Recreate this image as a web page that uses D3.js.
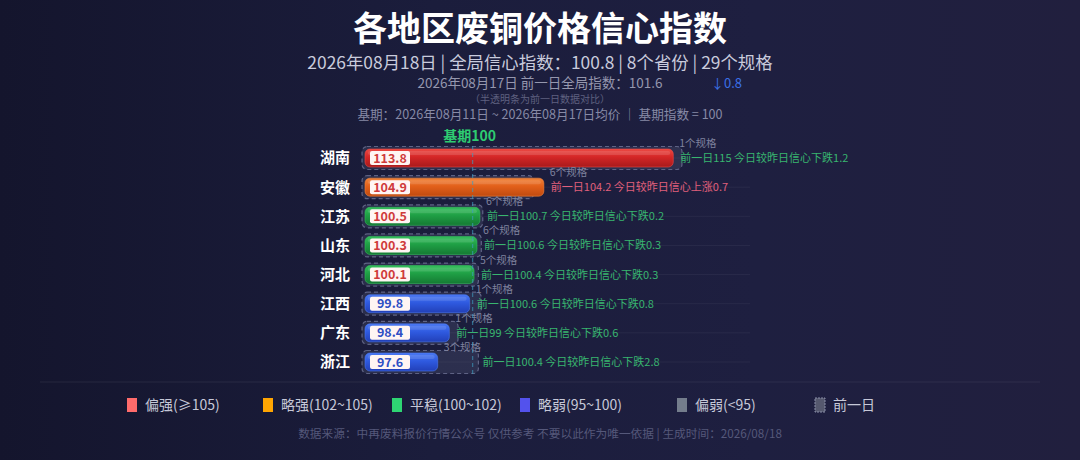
<!DOCTYPE html>
<html>
<head>
<meta charset="utf-8">
<script src="https://cdn.jsdelivr.net/npm/d3@7"></script>
<style>
  html, body { margin: 0; padding: 0; }
  body { width: 1080px; height: 460px; overflow: hidden;
         background: linear-gradient(90deg, #14152d 0%, #1b1d3c 40%, #1e1f40 70%, #211f3e 100%); }
  svg { display: block; }
</style>
</head>
<body>
<div id="chart"></div>
<script>
// Data
//////////////////////////////////////////////////////////////////////
const provinces = ["湖南", "安徽", "江苏", "山东", "河北", "江西", "广东", "浙江"];
const todayIndex = [113.8, 104.9, 100.5, 100.3, 100.1, 99.8, 98.4, 97.6];
const prevIndex = [115, 104.2, 100.7, 100.6, 100.4, 100.6, 99, 100.4];
const specCounts = [1, 6, 6, 6, 5, 1, 1, 3];

const legendLabels = ["偏强(≥105)", "略强(102~105)", "平稳(100~102)", "略弱(95~100)", "偏弱(<95)", "前一日"];
const legendColors = ["#ff6b6b", "#ffa502", "#2ed573", "#5352ed", "#747d8c", "#55586e"];

const globalIndex = 100.8;
const prevGlobalIndex = 101.6;
const baseIndex = 100;

// Variables
//////////////////////////////////////////////////////////////////////
const width = 1080, height = 460;
const fontFamily = '"Noto Sans CJK SC", "Noto Sans", sans-serif';
const barH = 18;

const svg = d3.select("#chart").append("svg")
  .attr("width", width).attr("height", height)
  .attr("font-family", fontFamily);

const defs = svg.append("defs");

// bar gradients: top light, bottom dark
const barStyles = {
  strong: ["#ec4a44", "#d42626", "#a81a1c"],
  up:     ["#f2843a", "#e2601a", "#c04a10"],
  flat:   ["#34be5c", "#1f9f45", "#157a33"],
  weak:   ["#4a78f2", "#2f5ae0", "#2240b8"],
  low:    ["#8a93a3", "#747d8c", "#5a6270"]
};
Object.entries(barStyles).forEach(([k, c]) => {
  const g = defs.append("linearGradient").attr("id", "g_" + k)
    .attr("x1", 0).attr("y1", 0).attr("x2", 0).attr("y2", 1);
  g.append("stop").attr("offset", "0%").attr("stop-color", c[0]);
  g.append("stop").attr("offset", "45%").attr("stop-color", c[1]);
  g.append("stop").attr("offset", "100%").attr("stop-color", c[2]);
});

function level(v) {
  if (v >= 105) return "strong";
  if (v >= 102) return "up";
  if (v >= 100) return "flat";
  if (v >= 95) return "weak";
  return "low";
}

// Scales (clamped: ghost bars beyond the axis end are cut at the edge)
//////////////////////////////////////////////////////////////////////
const x = d3.scaleLinear().domain([92.6, 114.4]).range([365, 682]).clamp(true);
const y = d3.scalePoint().domain(provinces).range([158, 362]);

const rows = provinces.map((p, i) => ({
  name: p, v: todayIndex[i], prev: prevIndex[i], specs: specCounts[i]
}));

// note goes after the ghost bar only when it sticks out a lot
const noteX = d => (d.prev - d.v > 2) ? x(d.prev) + 4 : x(d.v) + 7;

// Header
//////////////////////////////////////////////////////////////////////
svg.append("text").attr("x", 540).attr("y", 41)
  .attr("text-anchor", "middle").attr("fill", "#ffffff")
  .attr("font-size", 34).attr("font-weight", 700)
  .text("各地区废铜价格信心指数");

svg.append("text").attr("x", 540).attr("y", 69)
  .attr("text-anchor", "middle").attr("fill", "#c9cbdc")
  .attr("font-size", 17.4)
  .text(`2026年08月18日 | 全局信心指数：${globalIndex} | ${provinces.length}个省份 | ${d3.sum(specCounts)}个规格`);

svg.append("text").attr("x", 540).attr("y", 88)
  .attr("text-anchor", "middle").attr("fill", "#9597ae")
  .attr("font-size", 13.5)
  .text(`2026年08月17日 前一日全局指数：${prevGlobalIndex}`);

const gDiff = prevGlobalIndex - globalIndex;
svg.append("text").attr("x", 711).attr("y", 88)
  .attr("fill", "#3b6fe6").attr("font-size", 13)
  .text((gDiff > 0 ? "↓" : "↑") + Math.abs(gDiff).toFixed(1));

svg.append("text").attr("x", 540).attr("y", 103)
  .attr("text-anchor", "middle").attr("fill", "#5f6180")
  .attr("font-size", 10)
  .text("（半透明条为前一日数据对比）");

svg.append("text").attr("x", 540).attr("y", 119)
  .attr("text-anchor", "middle").attr("fill", "#878aa6")
  .attr("font-size", 12.6)
  .text(`基期：2026年08月11日 ~ 2026年08月17日均价 ｜ 基期指数 = ${baseIndex}`);

svg.append("text").attr("x", x(baseIndex) - 3).attr("y", 141)
  .attr("text-anchor", "middle").attr("fill", "#2ecc71")
  .attr("font-size", 14).attr("font-weight", 700)
  .text("基期" + baseIndex);

// Row guide lines
//////////////////////////////////////////////////////////////////////
svg.append("g")
  .selectAll("line").data(rows).join("line")
  .attr("x1", 365).attr("x2", 750)
  .attr("y1", d => y(d.name)).attr("y2", d => y(d.name))
  .attr("stroke", "#ffffff").attr("stroke-opacity", 0.05);

// Province names
//////////////////////////////////////////////////////////////////////
svg.append("g")
  .selectAll("text").data(rows).join("text")
  .attr("x", 350).attr("y", d => y(d.name)).attr("dy", "0.36em")
  .attr("text-anchor", "end").attr("fill", "#ffffff")
  .attr("font-size", 15).attr("font-weight", 700)
  .text(d => d.name);

// Previous-day ghost bars
//////////////////////////////////////////////////////////////////////
svg.append("g")
  .selectAll("rect").data(rows).join("rect")
  .attr("x", x.range()[0] - 3)
  .attr("y", d => y(d.name) - 11.5)
  .attr("width", d => x(d.prev) - x.range()[0] + 3)
  .attr("height", 23)
  .attr("rx", 5)
  .attr("fill", "#8890b0").attr("fill-opacity", 0.16)
  .attr("stroke", "#8f96b8").attr("stroke-opacity", 0.55)
  .attr("stroke-dasharray", "4,3").attr("stroke-width", 1.2);

// Today bars
//////////////////////////////////////////////////////////////////////
const bar = svg.append("g")
  .selectAll("g").data(rows).join("g")
  .attr("transform", d => `translate(0,${y(d.name)})`);

bar.append("rect")
  .attr("x", x.range()[0])
  .attr("y", -barH / 2)
  .attr("width", d => x(d.v) - x.range()[0])
  .attr("height", barH)
  .attr("rx", 5)
  .attr("fill", d => `url(#g_${level(d.v)})`)
  .attr("stroke", d => barStyles[level(d.v)][0])
  .attr("stroke-opacity", 0.6);

// glossy highlight
bar.append("rect")
  .attr("x", x.range()[0] + 3)
  .attr("y", -barH / 2 + 2)
  .attr("width", d => x(d.v) - x.range()[0] - 6)
  .attr("height", 4)
  .attr("rx", 2)
  .attr("fill", "#ffffff").attr("fill-opacity", 0.12);

// value tag
bar.append("rect")
  .attr("x", 370).attr("y", -7).attr("width", 40).attr("height", 14)
  .attr("rx", 2).attr("fill", "#fff5f3");

bar.append("text")
  .attr("x", 390).attr("y", 0).attr("dy", "0.36em")
  .attr("text-anchor", "middle")
  .attr("font-size", 12.5).attr("font-weight", 700)
  .attr("fill", d => level(d.v) === "weak" ? "#2f4fc4" : "#cf3b3b")
  .text(d => d3.format(".1f")(d.v));

// spec count labels
bar.append("text")
  .attr("x", d => x(d.v) + 6)
  .attr("y", -11)
  .attr("font-size", 10.5).attr("fill", "#7f829e")
  .text(d => d.specs + "个规格");

// change notes
bar.append("text")
  .attr("x", noteX)
  .attr("y", 0).attr("dy", "0.36em")
  .attr("font-size", 11)
  .attr("fill", d => d.v >= d.prev ? "#e0607c" : "#38b56f")
  .text(d => {
    const diff = d.v - d.prev;
    return `前一日${d.prev} 今日较昨日信心${diff >= 0 ? "上涨" : "下跌"}${Math.abs(diff).toFixed(1)}`;
  });

// Base line
//////////////////////////////////////////////////////////////////////
svg.append("line")
  .attr("x1", x(baseIndex)).attr("x2", x(baseIndex))
  .attr("y1", 146).attr("y2", 377)
  .attr("stroke", "#3d9cc0").attr("stroke-opacity", 0.6)
  .attr("stroke-width", 1.3).attr("stroke-dasharray", "4,3");

// Separator
//////////////////////////////////////////////////////////////////////
svg.append("line")
  .attr("x1", 40).attr("x2", 1040).attr("y1", 382).attr("y2", 382)
  .attr("stroke", "#ffffff").attr("stroke-opacity", 0.07);

// Legend
//////////////////////////////////////////////////////////////////////
const legendX = [127, 263, 392, 520, 677, 815];
const legend = svg.append("g")
  .selectAll("g").data(legendLabels).join("g")
  .attr("transform", (d, i) => `translate(${legendX[i]},405)`);

legend.append("rect")
  .attr("x", 0).attr("y", -7).attr("width", 10).attr("height", 14)
  .attr("fill", (d, i) => legendColors[i])
  .attr("stroke", (d, i) => i === 5 ? "#8a8ea8" : "none")
  .attr("stroke-dasharray", "2,1");

legend.append("text")
  .attr("x", 18).attr("y", 0).attr("dy", "0.36em")
  .attr("font-size", 14).attr("fill", "#c6c8d8")
  .text(d => d);

// Footer
//////////////////////////////////////////////////////////////////////
svg.append("text").attr("x", 540).attr("y", 438)
  .attr("text-anchor", "middle").attr("fill", "#55587a")
  .attr("font-size", 11.7)
  .text("数据来源：中再废料报价行情公众号 仅供参考 不要以此作为唯一依据 | 生成时间：2026/08/18");
</script>
</body>
</html>
